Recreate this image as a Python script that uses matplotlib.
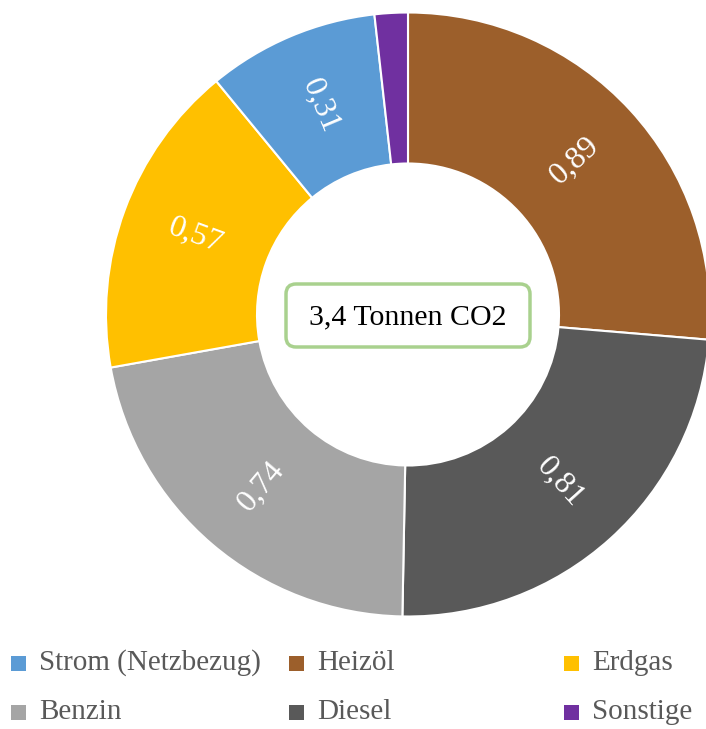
import numpy as np
import matplotlib.pyplot as plt
from matplotlib.patches import FancyBboxPatch, Rectangle

plt.rcParams['font.family'] = ['Liberation Serif', 'DejaVu Serif']

# pie order, clockwise from 12 o'clock
sources = ['Heizöl', 'Diesel', 'Benzin', 'Erdgas', 'Strom (Netzbezug)', 'Sonstige']
values = [0.89, 0.81, 0.74, 0.57, 0.31, 0.06]
labels = ['0,89', '0,81', '0,74', '0,57', '0,31', '']
colors = ['#9C5F2B', '#595959', '#A5A5A5', '#FFC000', '#5B9BD5', '#7030A0']
total_text = '3,4 Tonnen CO2'

# legend order (row by row)
legend_rows = [['Strom (Netzbezug)', 'Heizöl', 'Erdgas'],
               ['Benzin', 'Diesel', 'Sonstige']]

W, H = 706, 729
fig = plt.figure(figsize=(W / 100, H / 100), dpi=100)
ax = fig.add_axes([0, 0, 1, 1])

cx, cy = 408, H - 314.5
R, ring = 302, 151

wedges, _ = ax.pie(values, colors=colors, startangle=90, counterclock=False,
                   center=(cx, cy), radius=R, frame=True,
                   wedgeprops=dict(width=ring, edgecolor='white', linewidth=1.5))
ax.set_xlim(0, W)
ax.set_ylim(0, H)
ax.set_aspect('equal')
ax.axis('off')

# radial value labels
rl = R - ring / 2
for w, lab in zip(wedges, labels):
    if not lab:
        continue
    ang = (w.theta1 + w.theta2) / 2
    x = cx + rl * np.cos(np.radians(ang))
    y = cy + rl * np.sin(np.radians(ang))
    rot = ang
    if rot > 90 or rot < -90:
        rot -= 180
    while rot < -90:
        rot += 360
    ax.text(x, y, lab, rotation=rot, rotation_mode='anchor', ha='center', va='center',
            color='white', fontsize=23)

# center box
box = FancyBboxPatch((286, H - 347), 244, 63, boxstyle='round,pad=0,rounding_size=10',
                     facecolor='white', edgecolor='#A9D18E', linewidth=2.5)
ax.add_patch(box)
ax.text(cx, H - 317, total_text, ha='center', va='center', fontsize=21.5, color='black')

# legend
col_x = [11, 289, 564]
row_y = [H - 663, H - 712]
for r, row in enumerate(legend_rows):
    for c, name in enumerate(row):
        col = colors[sources.index(name)]
        ax.add_patch(Rectangle((col_x[c], row_y[r] - 7.5), 15, 15, facecolor=col, edgecolor='none'))
        ax.text(col_x[c] + 28, row_y[r], name, ha='left', va='center', fontsize=21,
                color='#595959')

fig.savefig('out.png', dpi=100)
